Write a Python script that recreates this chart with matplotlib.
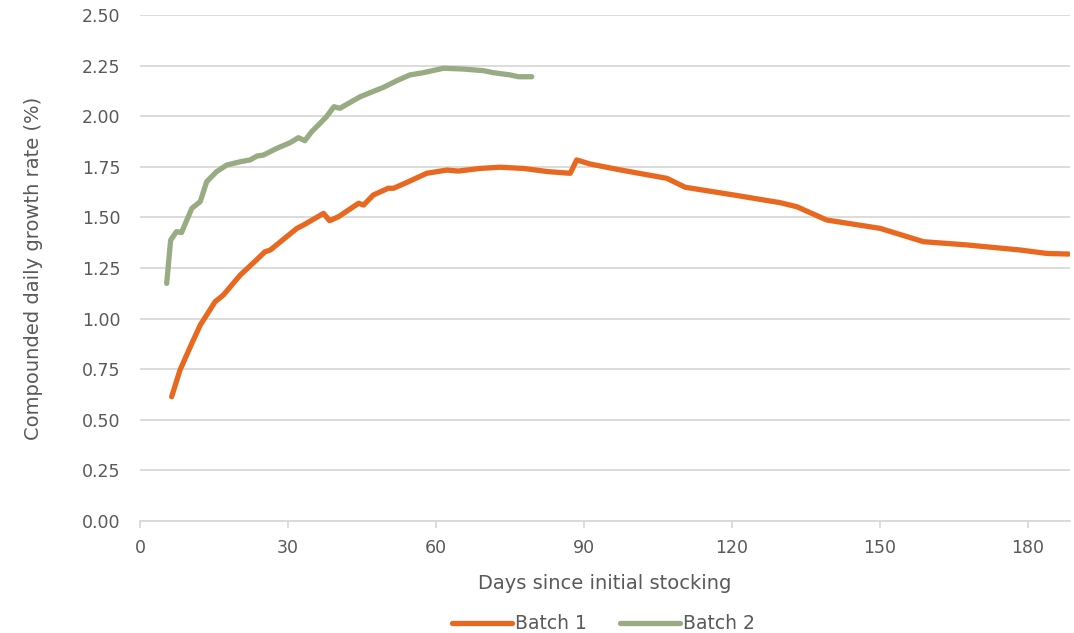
import matplotlib
matplotlib.use("Agg")
import matplotlib.pyplot as plt

plt.rcParams['font.family'] = ['DejaVu Sans']

batch1_days = [6.4, 8.1, 10.5, 12.2, 15.2, 16.9, 20.3, 23.6, 25.3, 26.4, 31.8, 33.1, 37.2, 38.4,
               40.2, 44.3, 45.3, 47.3, 50.3, 51.4, 54.0, 58.1, 62.2, 64.5, 68.9, 73.0, 77.7,
               82.8, 87.2, 88.5, 91.2, 96.6, 106.8, 110.5, 120.3, 129.7, 133.1, 139.2, 150.0,
               158.8, 167.6, 178.4, 183.8, 188.2]
batch1_rate = [0.614, 0.746, 0.878, 0.968, 1.083, 1.117, 1.215, 1.290, 1.330, 1.339, 1.446, 1.462,
               1.520, 1.484, 1.503, 1.570, 1.561, 1.611, 1.644, 1.644, 1.672, 1.718, 1.734, 1.729,
               1.742, 1.748, 1.742, 1.726, 1.718, 1.784, 1.764, 1.738, 1.693, 1.649, 1.611, 1.573,
               1.553, 1.487, 1.446, 1.380, 1.364, 1.339, 1.322, 1.319]

batch2_days = [5.4, 6.2, 7.4, 8.4, 10.5, 12.2, 13.5, 15.5, 17.6, 20.3, 22.3, 23.7, 25.0, 27.7,
               30.4, 32.1, 33.4, 34.8, 36.5, 37.8, 39.3, 40.5, 44.6, 46.6, 49.3, 52.0, 54.7,
               57.4, 61.5, 65.5, 69.6, 71.6, 75.0, 76.7, 79.4]
batch2_rate = [1.174, 1.388, 1.430, 1.425, 1.545, 1.578, 1.676, 1.726, 1.759, 1.775, 1.784, 1.803,
               1.808, 1.841, 1.869, 1.894, 1.879, 1.924, 1.965, 1.998, 2.047, 2.039, 2.096, 2.116,
               2.142, 2.175, 2.204, 2.215, 2.237, 2.233, 2.225, 2.215, 2.204, 2.195, 2.195]

x_ticks = [0, 30, 60, 90, 120, 150, 180]
y_ticks = [0.0, 0.25, 0.5, 0.75, 1.0, 1.25, 1.5, 1.75, 2.0, 2.25, 2.5]

orange = '#E8681F'
green = '#98AB83'
text_c = '#595959'
grid_c = '#D9D9D9'

fig = plt.figure(figsize=(10.74, 6.33), dpi=100)
ax = fig.add_axes([0.1304, 0.1769, 0.8659, 0.7994])

ax.plot(batch1_days, batch1_rate, color=orange, lw=3.8, solid_capstyle='round',
        solid_joinstyle='round', label='Batch 1', zorder=3)
ax.plot(batch2_days, batch2_rate, color=green, lw=3.8, solid_capstyle='round',
        solid_joinstyle='round', label='Batch 2', zorder=3)

ax.set_xlim(0, 188.5)
ax.set_ylim(0, 2.5)
ax.set_xticks(x_ticks)
ax.set_yticks(y_ticks)
ax.set_yticklabels([f'{v:.2f}' for v in y_ticks])
ax.grid(axis='y', color=grid_c, lw=1.3)
ax.set_axisbelow(True)
for s in ['top', 'right', 'left']:
    ax.spines[s].set_visible(False)
ax.spines['bottom'].set_color(grid_c)
ax.spines['bottom'].set_linewidth(1.3)
ax.tick_params(axis='x', colors=grid_c, length=5, width=1.3, labelcolor=text_c, labelsize=12.5, pad=8)
ax.tick_params(axis='y', length=0, labelcolor=text_c, labelsize=12.5, pad=14)

ax.set_xlabel('Days since initial stocking', color=text_c, fontsize=14, labelpad=12)
ax.set_ylabel('Compounded daily growth rate (%)', color=text_c, fontsize=14, labelpad=28)

leg = fig.legend(loc='lower center', ncol=2, frameon=False, fontsize=13.5,
                 bbox_to_anchor=(0.562, -0.027), handlelength=3.2, handletextpad=0.15,
                 columnspacing=1.8, labelcolor=text_c)

fig.savefig('out.png', dpi=100)
